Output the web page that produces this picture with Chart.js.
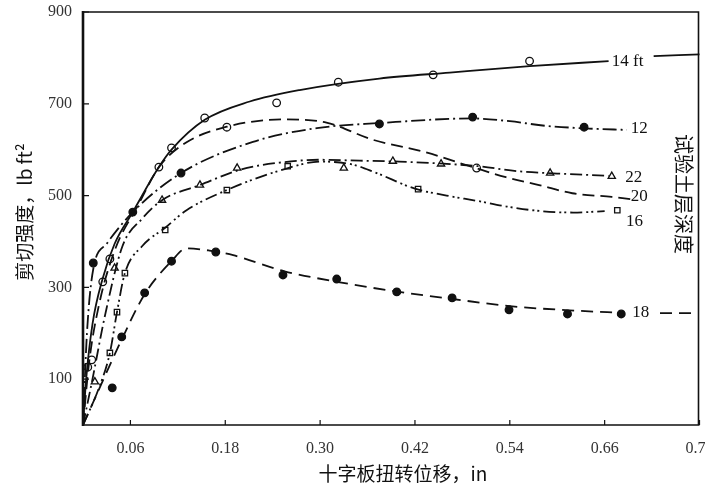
<!DOCTYPE html>
<html>
<head>
<meta charset="utf-8">
<script src="https://cdn.jsdelivr.net/npm/chart.js@4.4.1/dist/chart.umd.min.js"></script>
<style>
  html, body { margin: 0; padding: 0; background: #fff; }
  #wrap { width: 705px; height: 493px; }
</style>
</head>
<body>
<div id="wrap"><canvas id="myChart" width="705" height="493"></canvas></div>
<script>
// AXES
var xTicks = [0.06, 0.18, 0.30, 0.42, 0.54, 0.66, 0.78];
var yTicks = [100, 300, 500, 700, 900];

// CURVES (x = displacement in, y = shear strength lb/ft2)
var line14 = [[0,0],[0.004,100],[0.012,220],[0.025,320],[0.04,395],[0.063,464],[0.096,562],[0.112,600],[0.154,665],[0.211,705],[0.274,730],[0.375,755],[0.464,768],[0.565,782],[0.665,793]];
var tail14 = [[0.722,804],[0.785,808]];
var line12 = [[0,0],[0.005,200],[0.013,340],[0.03,395],[0.063,464],[0.124,549],[0.215,617],[0.296,647],[0.375,658],[0.493,668],[0.54,662],[0.585,652],[0.64,646],[0.688,643]];
var line20 = [[0,0],[0.008,140],[0.02,260],[0.04,380],[0.07,480],[0.096,562],[0.13,615],[0.182,650],[0.254,666],[0.308,659],[0.366,622],[0.434,594],[0.493,562],[0.535,540],[0.577,523],[0.619,505],[0.669,497],[0.693,492]];
var line22 = [[0,0],[0.012,100],[0.028,240],[0.05,390],[0.075,450],[0.1,490],[0.148,523],[0.2,557],[0.25,572],[0.3,578],[0.35,576],[0.4,574],[0.45,570],[0.5,564],[0.55,553],[0.6,548],[0.665,543]];
var line16 = [[0,0],[0.02,80],[0.034,157],[0.043,246],[0.053,331],[0.075,390],[0.104,430],[0.131,468],[0.182,512],[0.25,555],[0.3,574],[0.34,568],[0.37,550],[0.42,515],[0.46,500],[0.5,488],[0.536,476],[0.58,466],[0.62,463],[0.66,466]];
var line18 = [[0,0],[0.05,190],[0.078,285],[0.112,357],[0.131,385],[0.16,380],[0.19,370],[0.255,335],[0.325,311],[0.4,290],[0.47,274],[0.54,259],[0.615,250],[0.685,244]];
var tail18 = [[0.73,244],[0.775,244]];

// MEASURED POINTS
var marks14 = [[0.006,126],[0.025,312],[0.096,562],[0.112,604],[0.154,669],[0.245,702],[0.323,747],[0.443,763],[0.565,793]];
var marks12 = [[0.013,353],[0.063,464],[0.124,549],[0.375,656],[0.493,671],[0.634,649]];
var marks20 = [[0.011,142],[0.034,362],[0.182,649],[0.498,560]];
var marks22 = [[0.015,94],[0.04,342],[0.1,490],[0.148,523],[0.195,560],[0.33,560],[0.392,575],[0.453,569],[0.591,549],[0.669,542]];
var marks16 = [[0.034,157],[0.043,246],[0.053,331],[0.104,425],[0.182,512],[0.259,564],[0.424,514],[0.676,468]];
var marks18 = [[0.037,81],[0.049,192],[0.078,288],[0.112,357],[0.168,377],[0.253,327],[0.321,318],[0.397,290],[0.467,277],[0.539,251],[0.613,242],[0.681,242]];

// CURVE LABELS (depth of test layer)
var depthLabels = ['14 ft', '12', '22', '20', '16', '18'];
var labelX = [0.669, 0.693, 0.686, 0.693, 0.687, 0.695];
var labelY = [791, 647, 540, 497, 444, 244];

var pts = (arr) => arr.map(p => ({x: p[0], y: p[1]}));

function curve(arr, dash, width) {
  return {
    data: pts(arr),
    showLine: true,
    borderColor: '#111',
    borderWidth: width || 1.8,
    borderDash: dash,
    pointRadius: 0,
    cubicInterpolationMode: 'monotone',
    fill: false
  };
}

function marks(arr, style, filled, r) {
  return {
    data: pts(arr),
    showLine: false,
    pointStyle: style,
    pointRadius: r || 3.8,
    pointBorderWidth: 1.3,
    pointBorderColor: '#111',
    pointBackgroundColor: filled ? '#111' : '#fff'
  };
}

// FRAME, TICK MARKS, TEXTS
var decor = {
  id: 'decor',
  afterDraw(chart) {
    var ctx = chart.ctx, a = chart.chartArea, x = chart.scales.x, y = chart.scales.y;
    ctx.save();
    ctx.strokeStyle = '#111';
    ctx.lineWidth = 1.6;
    ctx.beginPath();
    ctx.moveTo(a.left, a.top); ctx.lineTo(a.right - 1, a.top); ctx.lineTo(a.right - 1, a.bottom);
    ctx.moveTo(a.left, a.bottom); ctx.lineTo(a.right, a.bottom);
    ctx.stroke();
    ctx.lineWidth = 2.6;
    ctx.beginPath(); ctx.moveTo(a.left, a.top - 1); ctx.lineTo(a.left, a.bottom + 1); ctx.stroke();

    ctx.lineWidth = 1.2;
    ctx.beginPath();
    xTicks.forEach(v => { var px = x.getPixelForValue(v); ctx.moveTo(px, a.bottom); ctx.lineTo(px, a.bottom - 5); });
    yTicks.forEach(v => { var py = y.getPixelForValue(v); ctx.moveTo(a.left, py); ctx.lineTo(a.left + 6, py); });
    ctx.stroke();

    ctx.fillStyle = '#111';
    ctx.font = '17px "Liberation Serif"';
    ctx.textAlign = 'left';
    ctx.textBaseline = 'middle';
    depthLabels.forEach((t, i) => {
      ctx.fillText(t, x.getPixelForValue(labelX[i]), y.getPixelForValue(labelY[i]));
    });

    ctx.font = '19px "Noto Sans CJK SC"';
    ctx.textAlign = 'center';
    ctx.fillText('十字板扭转位移，in', 403, 474);

    ctx.save();
    ctx.translate(25, 212);
    ctx.rotate(-Math.PI / 2);
    ctx.fillText('剪切强度，lb ft²', 0, 0);
    ctx.restore();

    ctx.save();
    ctx.translate(684, 194);
    ctx.rotate(Math.PI / 2);
    ctx.font = '20px "Noto Sans CJK SC"';
    ctx.fillText('试验土层深度', 0, 0);
    ctx.restore();
    ctx.restore();
  }
};

const myChart = new Chart('myChart', {
  type: 'scatter',
  data: {
    datasets: [
      curve(line14, []), curve(tail14, []),
      curve(line12, [14, 4, 2, 4]),
      curve(line20, [12, 6]),
      curve(line22, [12, 4, 2, 4]),
      curve(line16, [12, 4, 2, 3, 2, 4]),
      curve(line18, [12, 7]), curve(tail18, [12, 7]),
      marks(marks14, 'circle', false),
      marks(marks12, 'circle', true),
      marks(marks20, 'circle', false),
      marks(marks22, 'triangle', false, 4.2),
      marks(marks16, 'rect', false, 3.8),
      marks(marks18, 'circle', true)
    ]
  },
  options: {
    responsive: false,
    animation: false,
    layout: { padding: { top: 12, right: 1, left: 0, bottom: 0 } },
    plugins: { legend: { display: false }, tooltip: { enabled: false } },
    scales: {
      x: {
        type: 'linear', min: 0, max: 0.78,
        grid: { display: false }, border: { display: false },
        afterBuildTicks: (s) => { s.ticks = xTicks.map(v => ({value: v})); },
        afterFit: (s) => { s.height = 68; s.paddingLeft = 0; s.paddingRight = 0; },
        ticks: {
          autoSkip: false, maxRotation: 0, padding: 6, color: '#333',
          font: { family: 'Liberation Serif', size: 16 },
          callback: (v) => Number(v).toFixed(2)
        }
      },
      y: {
        min: 0, max: 900,
        grid: { display: false }, border: { display: false },
        afterBuildTicks: (s) => { s.ticks = yTicks.map(v => ({value: v})); },
        afterFit: (s) => { s.width = 83; s.paddingTop = 0; s.paddingBottom = 0; },
        ticks: {
          autoSkip: false, padding: 3, color: '#333',
          font: { family: 'Liberation Serif', size: 16 }
        }
      }
    }
  },
  plugins: [decor]
});
</script>
</body>
</html>
